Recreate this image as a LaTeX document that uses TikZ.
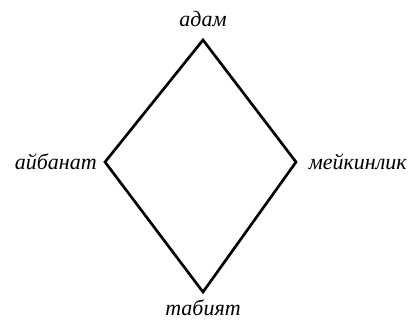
\documentclass[tikz,border=0pt]{standalone}
\usepackage{fontspec}
\setmainfont{Liberation Serif}
\begin{document}
\begin{tikzpicture}[x=0.75pt,y=-0.75pt,
  lbl/.style={font=\fontsize{16.5}{20}\selectfont\itshape, inner sep=0pt},
  edge/.style={line width=2pt, line join=miter}]
\useasboundingbox (0,0) rectangle (409,322);
\coordinate (t) at (203,40);
\coordinate (l) at (105,162);
\coordinate (r) at (296,162);
\coordinate (b) at (203,292);
\draw[edge] (t) -- (r) -- (b) -- (l) -- cycle;
\node[lbl] (adam) at (203,19) {адам};
\node[lbl, anchor=east] (aib) at (97,162) {айбанат};
\node[lbl, anchor=east] (mei) at (407,162) {мейкинлик};
\node[lbl] (tab) at (203,308) {табият};
\end{tikzpicture}
\end{document}
